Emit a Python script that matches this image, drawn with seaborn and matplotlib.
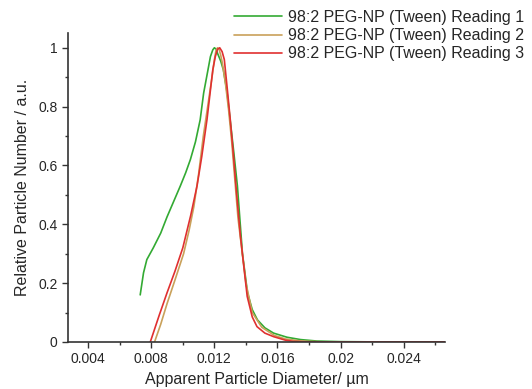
import pandas as pd
import matplotlib
matplotlib.use("Agg")
import matplotlib.pyplot as plt
from matplotlib.ticker import MultipleLocator, FuncFormatter
import seaborn as sns

LABELS = ["98:2 PEG-NP (Tween) Reading 1",
          "98:2 PEG-NP (Tween) Reading 2",
          "98:2 PEG-NP (Tween) Reading 3"]
COLORS = ["#33aa33", "#c9a15a", "#e03030"]

# diameters (um) and relative particle number
r1_d = [0.0073, 0.00751, 0.00772, 0.00813, 0.0086, 0.0090, 0.0094, 0.00984,
        0.01018, 0.01048, 0.0108, 0.0111, 0.01132, 0.01156, 0.01175, 0.0119,
        0.0120, 0.01212, 0.01221, 0.0124, 0.01257, 0.0128, 0.0130, 0.01323,
        0.01346, 0.01378, 0.0141, 0.0144, 0.01473, 0.0152, 0.01575, 0.0166,
        0.01746, 0.0185, 0.0200, 0.0225, 0.0266]
r1_n = [0.16, 0.235, 0.28, 0.32, 0.37, 0.425, 0.475, 0.53,
        0.575, 0.62, 0.68, 0.755, 0.846, 0.915, 0.97, 0.993,
        1.0, 0.995, 0.98, 0.955, 0.925, 0.85, 0.755, 0.645,
        0.53, 0.30, 0.167, 0.11, 0.075, 0.048, 0.03, 0.016,
        0.008, 0.003, 0.001, 0.0, 0.0]

r2_d = [0.00821, 0.0086, 0.0090, 0.0095, 0.01005, 0.0104, 0.0107, 0.0110,
        0.0113, 0.01185, 0.0120, 0.0121, 0.0122, 0.0123, 0.0124, 0.0125,
        0.0127, 0.0129, 0.0131, 0.0133, 0.0135, 0.0140, 0.0144, 0.0150,
        0.0158, 0.0165, 0.0175, 0.0190, 0.0266]
r2_n = [0.0, 0.06, 0.13, 0.21, 0.30, 0.38, 0.46, 0.57,
        0.70, 0.90, 0.96, 0.99, 1.0, 0.995, 0.975, 0.95,
        0.88, 0.79, 0.68, 0.55, 0.42, 0.20, 0.10, 0.05,
        0.022, 0.01, 0.003, 0.0, 0.0]

r3_d = [0.00794, 0.0085, 0.0090, 0.0095, 0.0100, 0.0105, 0.0109, 0.0112,
        0.01153, 0.0119, 0.01206, 0.0122, 0.01234, 0.01249, 0.01263, 0.0128,
        0.0130, 0.0132, 0.0134, 0.01365, 0.01408, 0.0144, 0.0147, 0.0152,
        0.01575, 0.0165, 0.0170, 0.0180, 0.0266]
r3_n = [0.0, 0.09, 0.167, 0.24, 0.32, 0.43, 0.53, 0.63,
        0.755, 0.925, 0.97, 0.995, 1.0, 0.987, 0.96, 0.87,
        0.76, 0.64, 0.51, 0.36, 0.155, 0.085, 0.052, 0.03,
        0.018, 0.006, 0.002, 0.0, 0.0]

sns.set_style("ticks")
plt.rcParams["font.family"] = ["Liberation Sans", "DejaVu Sans"]

fig = plt.figure(figsize=(5.32, 3.89), dpi=100)
ax = fig.add_axes([0.128, 0.121, 0.708, 0.794])

for d, n, lab, col in zip([r1_d, r2_d, r3_d], [r1_n, r2_n, r3_n], LABELS, COLORS):
    df = pd.DataFrame({"d": d, "n": n})
    sns.lineplot(data=df, x="d", y="n", ax=ax, color=col, lw=1.2,
                 label=lab, sort=False, legend=False)

ax.set_xlim(0.00273, 0.0266)
ax.set_ylim(0, 1.05)
ax.xaxis.set_major_locator(MultipleLocator(0.004))
ax.xaxis.set_minor_locator(MultipleLocator(0.002))
ax.yaxis.set_major_locator(MultipleLocator(0.2))
ax.yaxis.set_minor_locator(MultipleLocator(0.1))
ax.xaxis.set_major_formatter(FuncFormatter(lambda v, p: f"{v:.3f}".rstrip("0")))
ax.yaxis.set_major_formatter(FuncFormatter(lambda v, p: f"{v:.1f}".rstrip("0").rstrip(".")))
ax.tick_params(axis="both", which="major", labelsize=10, length=4, width=1, color="#333333")
ax.tick_params(axis="both", which="minor", length=2.5, width=1, color="#333333")
for s in ["top", "right"]:
    ax.spines[s].set_visible(False)
for s in ["left", "bottom"]:
    ax.spines[s].set_color("#333333")
    ax.spines[s].set_linewidth(1.2)

ax.set_xlabel("Apparent Particle Diameter/ µm", fontsize=11.5, labelpad=4)
ax.set_ylabel("Relative Particle Number / a.u.", fontsize=11.5, labelpad=6)

handles, labels = ax.get_legend_handles_labels()
fig.legend(handles, labels, loc="upper right", bbox_to_anchor=(1.0, 0.995),
           frameon=False, fontsize=11.5, handlelength=3.0, handletextpad=0.4,
           labelspacing=0.2, borderaxespad=0.1)

fig.savefig("out.png", dpi=100)
